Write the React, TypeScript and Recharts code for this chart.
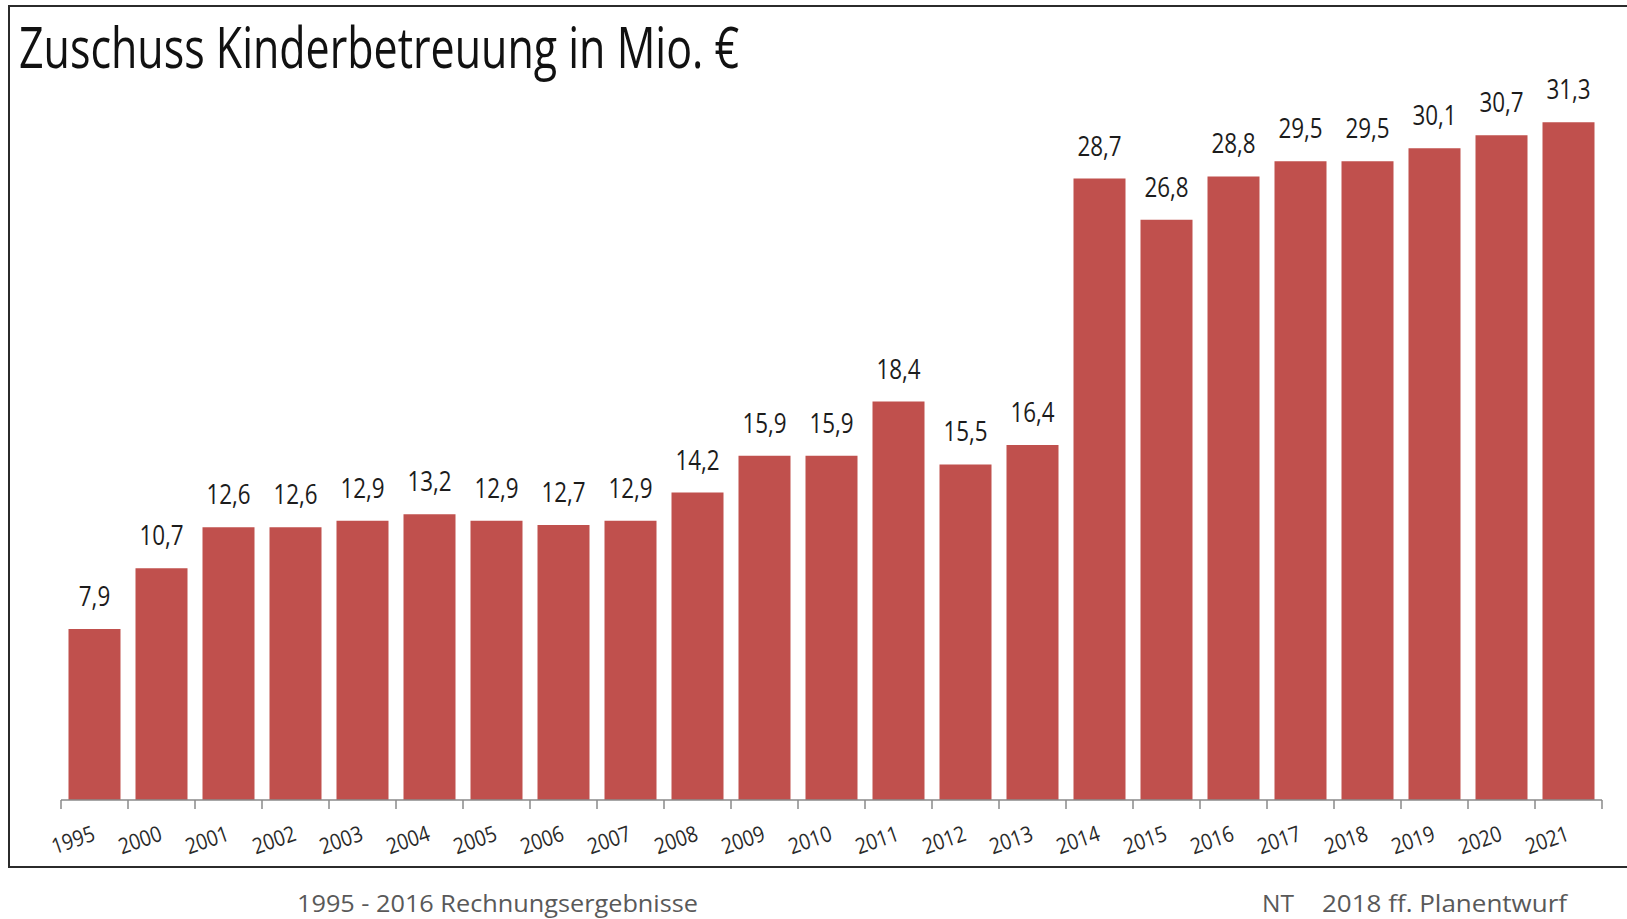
import { BarChart, Bar, XAxis, YAxis, LabelList } from "recharts";

const years = [
  "1995", "2000", "2001", "2002", "2003", "2004", "2005", "2006", "2007", "2008",
  "2009", "2010", "2011", "2012", "2013", "2014", "2015", "2016", "2017", "2018",
  "2019", "2020", "2021",
];

const zuschuss = [
  7.9, 10.7, 12.6, 12.6, 12.9, 13.2, 12.9, 12.7, 12.9, 14.2,
  15.9, 15.9, 18.4, 15.5, 16.4, 28.7, 26.8, 28.8, 29.5, 29.5,
  30.1, 30.7, 31.3,
];

const title = "Zuschuss Kinderbetreuung in Mio. €";
const footLeft = "1995 - 2016 Rechnungsergebnisse";
const footNT = "NT";
const footRight = "2018 ff. Planentwurf";

const data = years.map((year, i) => ({ year, value: zuschuss[i] }));

const FONT = "'Open Sans', 'Noto Sans', sans-serif";

// tick marks sit between the bars, labels slanted
function YearTick(props: any) {
  const { x, y, payload, index } = props;
  const half = payload?.offset ?? 33.5;
  const last = index === years.length - 1;
  const lx = x + 2;
  const ly = y + 40;
  return (
    <g>
      <line x1={x - half} y1={y} x2={x - half} y2={y + 9} stroke="#8a8a8a" strokeWidth={1.5} />
      {last && (
        <line x1={x + half} y1={y} x2={x + half} y2={y + 9} stroke="#8a8a8a" strokeWidth={1.5} />
      )}
      <text
        textAnchor="end"
        fontFamily={FONT}
        fontSize={22}
        fill="#2a2a2a"
        transform={`translate(${lx}, ${ly}) rotate(-19) scale(0.88, 1)`}
      >
        {payload.value}
      </text>
    </g>
  );
}

function ValueLabel(props: any) {
  const { x, y, width, value } = props;
  const cx = x + width / 2;
  const cy = y - 23;
  return (
    <text
      transform={`translate(${cx}, ${cy}) scale(0.8, 1)`}
      textAnchor="middle"
      fontFamily={FONT}
      fontSize={28}
      fill="#1c1c1c"
    >
      {Number(value).toFixed(1).replace(".", ",")}
    </text>
  );
}

export default function App() {
  return (
    <div
      style={{
        position: "absolute",
        left: 0,
        top: 0,
        width: 1627,
        height: 919,
        background: "#fff",
        overflow: "hidden",
      }}
    >
      <div
        style={{
          position: "absolute",
          left: 8,
          top: 5,
          width: 1630,
          height: 859,
          borderTop: "2.5px solid #2b2b2b",
          borderLeft: "2.5px solid #2b2b2b",
          borderBottom: "2.5px solid #2b2b2b",
        }}
      />
      <div style={{ position: "absolute", left: 0, top: 0 }}>
        <BarChart
          width={1627}
          height={919}
          data={data}
          margin={{ top: 100, right: 25, bottom: 0, left: 61 }}
          barCategoryGap={7.5}
        >
          <XAxis
            dataKey="year"
            height={119}
            interval={0}
            axisLine={{ stroke: "#8a8a8a", strokeWidth: 1.5 }}
            tickLine={false}
            tickSize={0}
            tickMargin={0}
            tick={<YearTick />}
          />
          <YAxis hide domain={[0, 32.33]} />
          <Bar dataKey="value" fill="#c0504d" isAnimationActive={false}>
            <LabelList dataKey="value" content={<ValueLabel />} />
          </Bar>
        </BarChart>
      </div>
      <svg
        width={1627}
        height={919}
        style={{ position: "absolute", left: 0, top: 0, pointerEvents: "none" }}
      >
        <text
          x={19}
          y={68}
          fontFamily={FONT}
          fontSize={56}
          fill="#111"
          textLength={720}
          lengthAdjust="spacingAndGlyphs"
        >
          {title}
        </text>
        <text
          x={297}
          y={912}
          fontFamily={FONT}
          fontSize={24}
          fill="#595959"
          textLength={401}
          lengthAdjust="spacingAndGlyphs"
        >
          {footLeft}
        </text>
        <text x={1262} y={912} fontFamily={FONT} fontSize={24} fill="#595959" textLength={32} lengthAdjust="spacingAndGlyphs">
          {footNT}
        </text>
        <text
          x={1322}
          y={912}
          fontFamily={FONT}
          fontSize={24}
          fill="#595959"
          textLength={245}
          lengthAdjust="spacingAndGlyphs"
        >
          {footRight}
        </text>
      </svg>
    </div>
  );
}
